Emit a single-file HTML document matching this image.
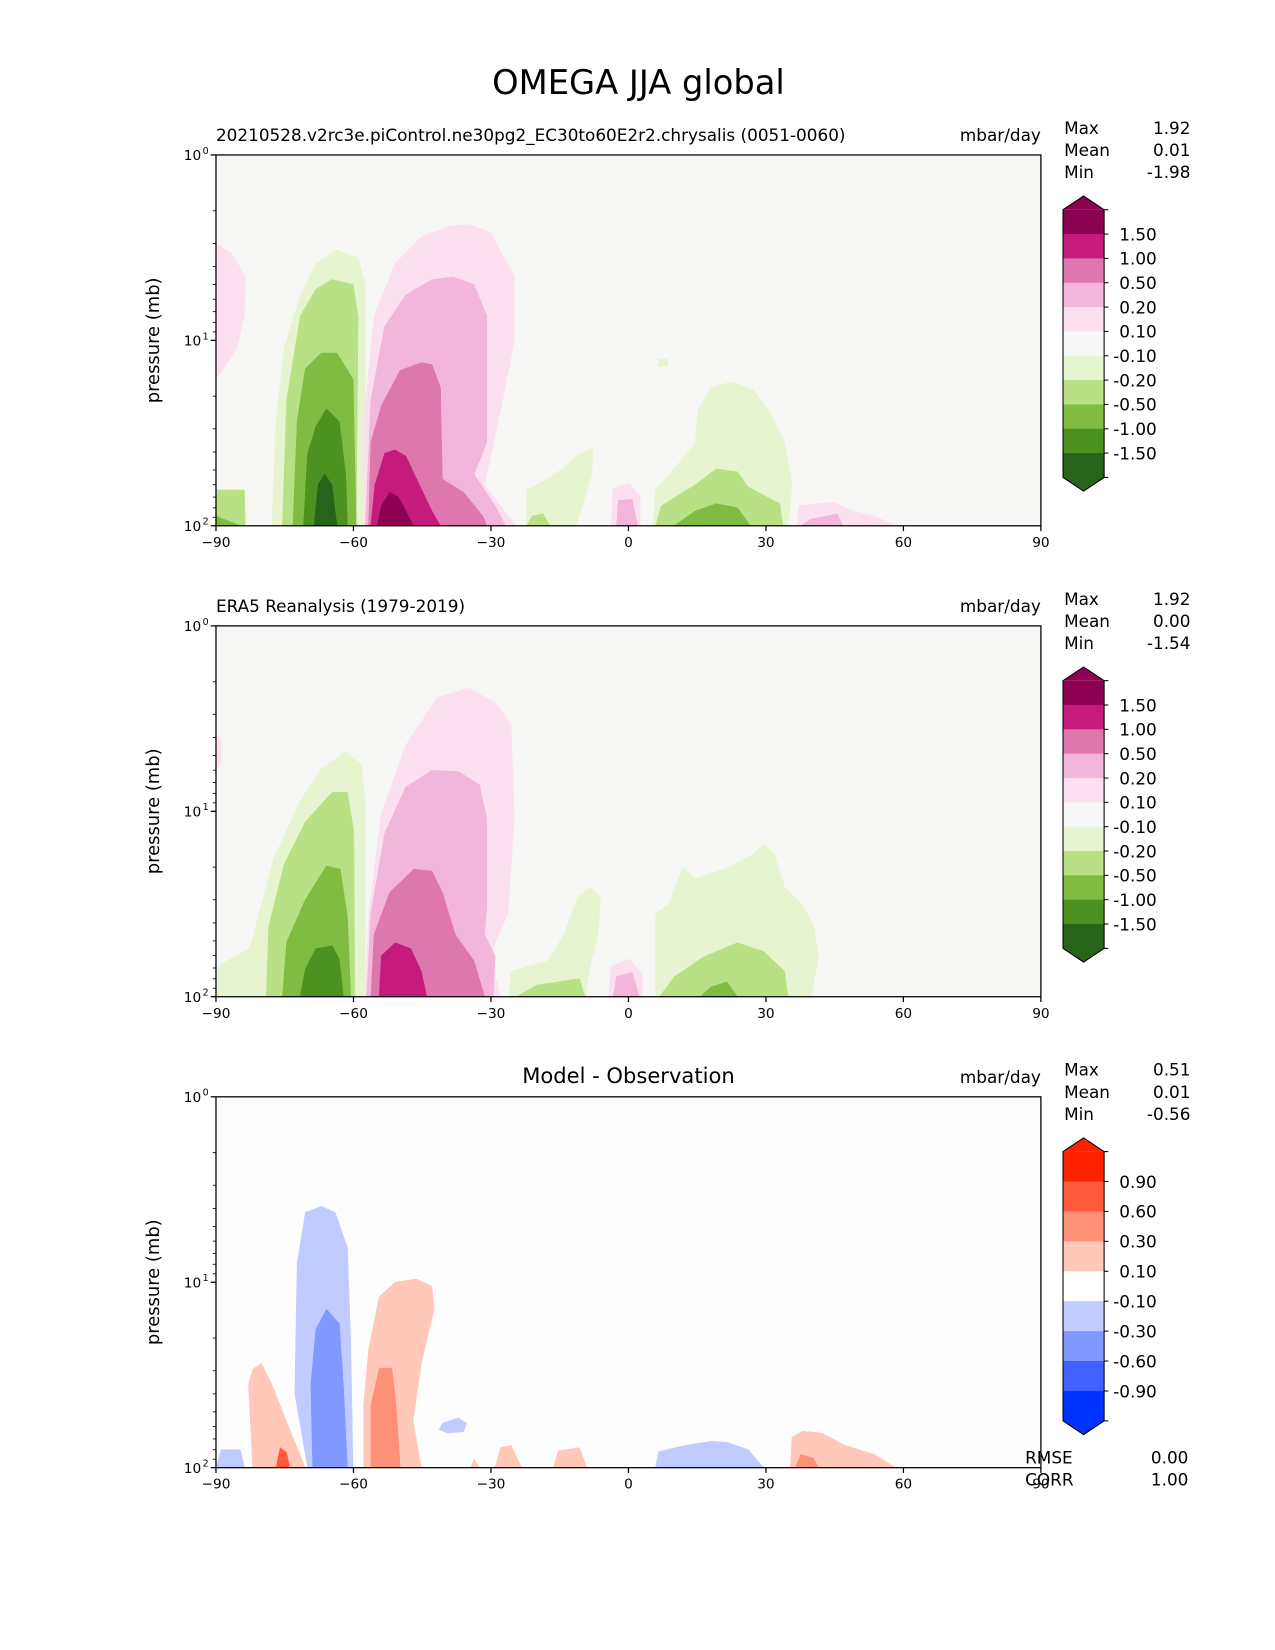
<!DOCTYPE html>
<html><head><meta charset="utf-8"><style>
html,body{margin:0;padding:0;background:#fff;}
svg{display:block;font-family:"DejaVu Sans","Liberation Sans",sans-serif;}
</style></head><body>
<svg id="fig" width="1275" height="1650" viewBox="0 0 1210.2 1566" xmlns="http://www.w3.org/2000/svg">
<rect width="1210.2" height="1566" fill="#fff"/>
<text x="606" y="89" font-size="32" text-anchor="middle">OMEGA JJA global</text>
</svg>
<script>
// ---- data: polygons as [lon, pressure(mb)] ----
const xTicks=[-90,-60,-30,0,30,60,90];
const yDecades=[0,1,2];
const cbLabelsMain=["1.50","1.00","0.50","0.20","0.10","-0.10","-0.20","-0.50","-1.00","-1.50"];
const cbColorsMain=["#8e0152","#c51b7d","#de77ae","#f1b6da","#fde0ef","#f7f7f7","#e6f5d0","#b8e186","#7fbc41","#4d9221","#276419"];
const cbLabelsDiff=["0.90","0.60","0.30","0.10","-0.10","-0.30","-0.60","-0.90"];
const cbColorsDiff=["#ff2200","#ff5a3e","#ff9078","#ffc8b8","#ffffff","#c0ccff","#8098ff","#4060ff","#0033ff"];
const stats1=["1.92","0.01","-1.98"];
const stats2=["1.92","0.00","-1.54"];
const stats3=["0.51","0.01","-0.56"];
const metricsVals=["0.00","1.00"];

const p1_g1=[[-77.8,100],[-76.9,27.4],[-75.1,11],[-71.6,5.7],[-68.2,3.85],[-63.6,3.25],[-59,3.6],[-57.4,5],[-57.4,100]];
const p1_g1b=[[-90,100],[-90,64.1],[-83.8,64.1],[-83.6,100]];
const p1_g2=[[-75.5,100],[-74.6,21.1],[-71.6,7.4],[-68.2,5.3],[-64.7,4.7],[-60.1,5.0],[-59,7.4],[-59.4,100]];
const p1_g2b=[[-90,100],[-90,88.7],[-84.7,100]];
const p1_g3=[[-73.2,100],[-72.3,27.4],[-70.5,14.2],[-67,11.7],[-63.6,11.7],[-60.1,16.2],[-59.4,100]];
const p1_g4=[[-70.9,100],[-70,40.6],[-68.2,29.2],[-65.9,23.4],[-63.1,27.4],[-61.7,52.6],[-61.3,100]];
const p1_g5=[[-68.6,100],[-67.7,60.1],[-66.3,52.6],[-64.7,60.1],[-63.6,100]];
const p1_k1=[[-57.8,100],[-57.8,27.4],[-55.5,7.4],[-50.9,3.85],[-45.2,2.77],[-39.4,2.43],[-34.8,2.37],[-30.2,2.6],[-24.9,4.5],[-24.9,10],[-27.9,24],[-31.4,60.1],[-24.5,100]];
const p1_k1b=[[-90,3.0],[-86.6,3.4],[-83.6,4.5],[-83.8,7.4],[-85.4,11],[-90,16.2]];
const p1_k2=[[-57.4,100],[-56.2,21.1],[-53.2,8.4],[-48.6,5.7],[-42.9,4.7],[-38.3,4.55],[-33.7,5.0],[-30.9,7.4],[-30.9,35.6],[-33.7,52.6],[-29.1,78],[-26.8,100]];
const p1_k3=[[-56.7,100],[-56.2,35.6],[-53.9,22.5],[-49.8,14.5],[-45.2,13.2],[-42.9,13.5],[-41,18],[-40.6,56],[-36,66],[-31.8,88.7],[-30.9,100]];
const p1_k4=[[-56.2,100],[-55.3,60.1],[-53.2,40.6],[-50.9,39],[-48.6,42],[-45.6,60.1],[-42.9,83.3],[-41,100]];
const p1_k5=[[-54.8,100],[-53.9,78],[-52.1,66],[-50.2,70],[-48.6,83],[-47,100]];
const p1_r1=[[-22.2,100],[-22.2,64.1],[-17.6,56],[-13,46.3],[-10.7,40.6],[-7.7,38.5],[-8.0,52.6],[-11.4,100]];
const p1_r2=[[5.4,100],[5.9,64.1],[10,49.2],[14.6,35.6],[15.1,24],[18,18],[22.6,16.7],[27.2,18.5],[30.7,24],[34.1,35.6],[35.7,60],[34.8,100]];
const p1_r3=[[5.9,100],[7.2,78],[14.6,60.1],[19.2,49.2],[23.8,51.2],[26.1,61.7],[33,76],[33.7,100]];
const p1_r4=[[10,100],[14.6,83.3],[19.2,76],[23.8,80],[26.6,100]];
const p1_r5=[[-22.2,100],[-21,88.7],[-18.7,86],[-17.1,100]];
const p1_z1=[[-3.8,100],[-3.3,62.5],[0.3,59],[2.6,70],[2.6,100]];
const p1_z2=[[-2.6,100],[-2.2,73],[0.8,72],[2,100]];
const p1_s1=[[36.9,100],[37.1,78],[44.5,74.5],[49.1,83.3],[53.7,88.7],[58.3,100]];
const p1_s2=[[37.6,100],[39.9,92],[45.6,86.5],[46.8,100]];
const p1_dot=[[6.5,12.6],[8.5,12.6],[8.5,13.8],[6.5,13.8]];

const p2_g1=[[-90,100],[-90,70],[-87.6,64.1],[-82.6,55],[-77.4,18],[-71.6,8.8],[-67,5.9],[-61.7,4.75],[-58.3,5.6],[-57.4,8.8],[-57.4,100]];
const p2_g2=[[-79,100],[-78.5,42],[-75.1,19.2],[-70.5,11.4],[-64.7,7.9],[-61.3,7.9],[-59.9,13],[-59.7,100]];
const p2_g3=[[-75.5,100],[-74.6,51],[-70.5,30],[-65.9,19.7],[-62.9,20.5],[-61.3,37],[-60.6,100]];
const p2_g4=[[-71.6,100],[-70.5,71],[-68.2,55],[-64.7,53],[-63.1,62.5],[-62.2,100]];
const p2_k1=[[-57.4,100],[-56.7,35.6],[-53.9,10.3],[-48.6,4.4],[-41.7,2.43],[-34.8,2.16],[-29.1,2.6],[-25.6,3.4],[-24.9,11],[-26.3,35.6],[-30.2,60.1],[-27.9,100]];
const p2_k1b=[[-90,3.8],[-88.9,4.2],[-89,5.5],[-90,6]];
const p2_k2=[[-57.1,100],[-56.2,35.6],[-53.2,13.2],[-48.6,7.4],[-42.9,6.0],[-37.1,6.1],[-32.5,7.2],[-30.9,11],[-30.9,33],[-31.4,46.3],[-29.1,60.1],[-29.5,100]];
const p2_k3=[[-56.2,100],[-55.5,46.3],[-52.1,27.4],[-46.8,20.5],[-42.9,21],[-40.6,27.4],[-37.8,46.3],[-33.7,64.1],[-31.4,100]];
const p2_k4=[[-54.4,100],[-53.9,60.1],[-50.9,51.2],[-47.5,55],[-45.2,73],[-44,100]];
const p2_r1=[[-26.1,100],[-25.6,73],[-17.6,64.1],[-14.1,46.3],[-11.1,29.2],[-8.4,25.7],[-6.1,29],[-6.6,46.3],[-8.4,68.3],[-9.3,100]];
const p2_r2=[[5.9,100],[5.9,35.6],[8.9,31.5],[11.8,20],[14.6,23],[21.5,20.3],[27.2,17],[29.5,15],[31.8,17],[34.1,25.7],[37.6,31.2],[40.3,40.6],[41.5,60.1],[39.9,100]];
const p2_r3=[[6.8,100],[10,78],[16.4,61],[23.8,51.2],[29.5,57],[34.1,73],[34.8,100]];
const p2_r4=[[15.7,100],[18,88.7],[21.5,83.3],[23.8,100]];
const p2_r5=[[-24.5,100],[-19.9,86.5],[-10.7,80],[-9.5,100]];
const p2_z1=[[-4.3,100],[-3.8,68.3],[0.3,62.5],[3.1,76],[3.1,100]];
const p2_z2=[[-3.3,100],[-2.6,78],[0.8,74],[2.4,100]];

const p3_b1=[[-70,100],[-72.8,40],[-72.3,8.0],[-70.5,4.2],[-67,3.9],[-64,4.2],[-61.3,6.5],[-60.6,21],[-60.1,100]];
const p3_b2=[[-68.9,100],[-69.3,35.6],[-68.2,18],[-65.9,14],[-63.1,16.7],[-62.2,35.6],[-61.3,100]];
const p3_r1=[[-57.8,100],[-57.8,46.3],[-56.7,23],[-54.4,12],[-50.9,10],[-46.3,9.6],[-42.9,10.5],[-42.4,14],[-45.2,27.4],[-47,56],[-45.2,100]];
const p3_r2=[[-56.2,100],[-56.2,46.3],[-54.4,29.2],[-51.6,29],[-50.7,46.3],[-49.8,100]];
const p3_r3=[[-82,100],[-82.9,35.6],[-82,29.5],[-80.1,27.4],[-77.8,35.6],[-75.1,52.6],[-70.5,100]];
const p3_r4=[[-76.9,100],[-76,78],[-74.6,83],[-73.9,100]];
const p3_b3=[[-90,100],[-88.9,80],[-84.7,80],[-83.8,100]];
const p3_b4=[[-41.3,62.5],[-40.6,57.5],[-37.1,54],[-35.3,57.5],[-36,64],[-39.4,65]];
const p3_b5=[[5.9,100],[6.6,82],[12.3,76],[18,72],[21.5,73],[26.1,80],[29.5,100]];
const p3_r5=[[35.3,100],[35.7,68.3],[38,63.5],[42.2,65],[46.8,75],[53.7,85],[58.3,100]];
const p3_r6=[[36.4,100],[37.6,85],[40.3,88.7],[41.5,100]];
const p3_r7=[[-29.1,100],[-27.9,78],[-25.6,76],[-23.3,100]];
const p3_r8=[[-16.4,100],[-15.3,81],[-10.7,78],[-9.1,100]];
const p3_r9=[[-34.4,100],[-33.7,90],[-32.5,100]];

const NS="http://www.w3.org/2000/svg";
const svg=document.getElementById('fig');
const L=205,W=783,H=352;
function xs(lon){return L+(lon+90)/180*W;}
function ys(top,p){return top+Math.log10(p)/2*H;}
function el(tag,attrs,parent){const e=document.createElementNS(NS,tag);for(const k in attrs)e.setAttribute(k,attrs[k]);(parent||svg).appendChild(e);return e;}
function txt(x,y,s,size,anchor,parent){const t=el('text',{x:x,y:y,'font-size':size,'text-anchor':anchor||'start'},parent);t.textContent=s;return t;}

function panel(idx,top,bg,title,titleCenter,layers,stats,cbColors,cbLabels,boxH){
  const g=el('g',{});
  
  
  const cp=el('clipPath',{id:'clip'+idx},g);
  el('rect',{x:L,y:top,width:W,height:H},cp);
  const bgr=el('rect',{x:L,y:top,width:W,height:H,fill:bg},g);
  
  
  const cg=el('g',{'clip-path':'url(#clip'+idx+')'},g);
  layers.forEach(function(ly,i){
    const d=ly[1].map(function(pt,j){return (j?'L':'M')+xs(pt[0]).toFixed(1)+','+ys(top,pt[1]).toFixed(1);}).join('')+'Z';
    const pth=el('path',{d:d,fill:ly[0],stroke:ly[0],'stroke-width':0.5},cg);
    
    
  });
  el('rect',{x:L,y:top,width:W,height:H,fill:'none',stroke:'#000','stroke-width':1.2},g);
  xTicks.forEach(function(v){
    const x=xs(v);
    el('line',{x1:x,y1:top+H,x2:x,y2:top+H+5,stroke:'#000','stroke-width':1.2},g);
    const t=txt(x,top+H+20,(v<0?'\u2212':'')+Math.abs(v),13,'middle',g);
    
    
  });
  yDecades.forEach(function(d){
    const y=ys(top,Math.pow(10,d));
    el('line',{x1:L-5,y1:y,x2:L,y2:y,stroke:'#000','stroke-width':1.2},g);
    const t=el('text',{x:L-14,y:y+5,'font-size':13,'text-anchor':'end'},g);
    
    
    t.textContent='10';
    const s=el('tspan',{x:L-7,dy:-6,'font-size':9,'text-anchor':'end'},t);s.textContent=String(d);
    if(d<2){for(let m=2;m<10;m++){const ym=ys(top,m*Math.pow(10,d));el('line',{x1:L-3,y1:ym,x2:L,y2:ym,stroke:'#000','stroke-width':0.8},g);}}
  });
  const yl=txt(0,0,'pressure (mb)',17,'middle',g);
  yl.setAttribute('transform','translate(151,'+(top+H/2)+') rotate(-90)');
  
  
  const tt=titleCenter?txt(596.5,top-13,title,20,'middle',g):txt(L,top-13,title,16,'start',g);
  
  
  const un=txt(988,top-13,'mbar/day',16,'end',g);
  
  
  ['Max','Mean','Min'].forEach(function(n,i){
    const a=txt(1010,top-20+i*21,n,16,'start',g);
    
    
    const b=txt(1130,top-20+i*21,stats[i],16,'end',g);
    
    
  });
  const cb=el('g',{},g);
  
  
  const cbTop=top+52, n=cbColors.length, cx0=1009, cw=39, tri=13;
  cbColors.forEach(function(c,i){el('rect',{x:cx0,y:cbTop+i*boxH,width:cw,height:boxH+0.5,fill:c},cb);});
  el('polygon',{points:cx0+','+cbTop+' '+(cx0+cw/2)+','+(cbTop-tri)+' '+(cx0+cw)+','+cbTop,fill:cbColors[0]},cb);
  const bot=cbTop+n*boxH;
  el('polygon',{points:cx0+','+bot+' '+(cx0+cw/2)+','+(bot+tri)+' '+(cx0+cw)+','+bot,fill:cbColors[n-1]},cb);
  el('polygon',{points:cx0+','+cbTop+' '+(cx0+cw/2)+','+(cbTop-tri)+' '+(cx0+cw)+','+cbTop+' '+(cx0+cw)+','+bot+' '+(cx0+cw/2)+','+(bot+tri)+' '+cx0+','+bot,fill:'none',stroke:'#000','stroke-width':1},cb);
  cbLabels.forEach(function(s,i){
    const y=cbTop+(i+1)*boxH;
    el('line',{x1:cx0+cw,y1:y,x2:cx0+cw+4,y2:y,stroke:'#000','stroke-width':1},cb);
    const t=txt(1098,y+6,s,16,'end',cb);
    
    
  });
  el('line',{x1:cx0+cw,y1:cbTop,x2:cx0+cw+4,y2:cbTop,stroke:'#000','stroke-width':1},cb);
  el('line',{x1:cx0+cw,y1:bot,x2:cx0+cw+4,y2:bot,stroke:'#000','stroke-width':1},cb);
}

panel(1,147,'#f6f6f4','20210528.v2rc3e.piControl.ne30pg2_EC30to60E2r2.chrysalis (0051-0060)',false,
 [['#e6f5d0',p1_g1],['#b8e186',p1_g1b],['#b8e186',p1_g2],['#7fbc41',p1_g2b],['#7fbc41',p1_g3],['#4d9221',p1_g4],['#276419',p1_g5],
  ['#fde0ef',p1_k1],['#fde0ef',p1_k1b],['#f1b6da',p1_k2],['#de77ae',p1_k3],['#c51b7d',p1_k4],['#8e0152',p1_k5],
  ['#e6f5d0',p1_r1],['#e6f5d0',p1_r2],['#b8e186',p1_r3],['#7fbc41',p1_r4],['#b8e186',p1_r5],['#fde0ef',p1_z1],['#f1b6da',p1_z2],
  ['#fde0ef',p1_s1],['#f1b6da',p1_s2],['#e6f5d0',p1_dot]],stats1,cbColorsMain,cbLabelsMain,23.1);
panel(2,594,'#f6f6f4','ERA5 Reanalysis (1979-2019)',false,
 [['#e6f5d0',p2_g1],['#b8e186',p2_g2],['#7fbc41',p2_g3],['#4d9221',p2_g4],
  ['#fde0ef',p2_k1],['#fde0ef',p2_k1b],['#f1b6da',p2_k2],['#de77ae',p2_k3],['#c51b7d',p2_k4],
  ['#e6f5d0',p2_r1],['#e6f5d0',p2_r2],['#b8e186',p2_r3],['#7fbc41',p2_r4],['#b8e186',p2_r5],['#fde0ef',p2_z1],['#f1b6da',p2_z2]],
 stats2,cbColorsMain,cbLabelsMain,23.1);
panel(3,1041,'#fdfdfd','Model - Observation',true,
 [['#c0ccff',p3_b1],['#8098ff',p3_b2],['#ffc8b8',p3_r1],['#ff9078',p3_r2],['#ffc8b8',p3_r3],['#ff5a3e',p3_r4],
  ['#c0ccff',p3_b3],['#c0ccff',p3_b4],['#c0ccff',p3_b5],['#ffc8b8',p3_r5],['#ff9078',p3_r6],['#ffc8b8',p3_r7],['#ffc8b8',p3_r8],['#ffc8b8',p3_r9]],
 stats3,cbColorsDiff,cbLabelsDiff,28.4);

['RMSE','CORR'].forEach(function(n,i){
  const a=txt(973,1389+i*21,n,16,'start');
  
  
  const b=txt(1128,1389+i*21,metricsVals[i],16,'end');
  
  
});
</script>
</body></html>
